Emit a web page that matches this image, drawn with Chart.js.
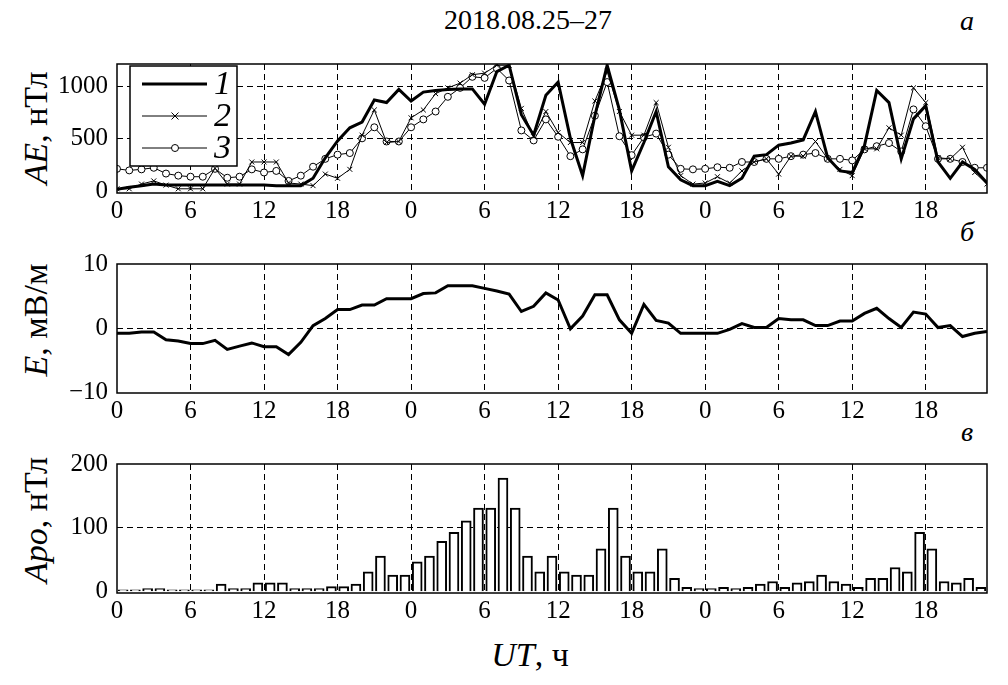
<!DOCTYPE html>
<html>
<head>
<meta charset="utf-8">
<script src="https://cdn.jsdelivr.net/npm/chart.js"></script>
<style>
body { margin: 0; background: #fff; width: 1008px; height: 685px; position: relative; overflow: hidden; }
canvas { position: absolute; left: 0; }
.lbl { position: absolute; font-family: 'Liberation Serif', 'Times New Roman', serif; color: #000; white-space: nowrap; transform: translate(-50%, -50%); }
.ytitle { position: absolute; font-family: 'Liberation Serif', 'Times New Roman', serif; color: #000; white-space: nowrap; font-size: 34px; left: 36px; transform: translate(-50%, -50%) rotate(-90deg); }
</style>
</head>
<body>
<div class="lbl" style="left:528px;top:20px;font-size:28px">2018.08.25–27</div>
<div class="lbl" style="left:967px;top:21px;font-size:28px;font-style:italic">а</div>
<div class="lbl" style="left:967px;top:232px;font-size:28px;font-style:italic">б</div>
<div class="lbl" style="left:967px;top:432px;font-size:28px;font-style:italic">в</div>
<div class="ytitle" style="top:128px"><i>AE</i>, нТл</div>
<div class="ytitle" style="top:320px"><i>E</i>, мВ/м</div>
<div class="ytitle" style="top:520px"><i>Apo</i>, нТл</div>
<div class="lbl" style="left:530px;top:655px;font-size:34px"><i>UT</i>, ч</div>

<canvas id="chartAE" width="1008" height="183" style="top:40px"></canvas>
<canvas id="chartE" width="1008" height="183" style="top:240px"></canvas>
<canvas id="chartApo" width="1008" height="183" style="top:440px"></canvas>

<script>
// hourly values, 25-27 Aug 2018
const xTickHours = [0, 6, 12, 18, 24, 30, 36, 42, 48, 54, 60, 66]
const xTickLabels = ['0', '6', '12', '18', '0', '6', '12', '18', '0', '6', '12', '18']

const aeLabels = ['1', '2', '3']
const ae1 = [20, 40, 55, 70, 60, 60, 60, 60, 60, 60, 60, 60, 60, 55, 55, 55, 125, 320, 480, 605, 660, 870, 845, 970, 860,
    945, 960, 970, 975, 975, 830, 1140, 1200, 730, 535, 915, 1040, 505, 150, 720, 1200, 775, 195, 465, 760, 235, 110, 55, 55,
    95, 55, 125, 335, 350, 440, 460, 490, 760, 320, 195, 180, 435, 960, 845, 310, 690, 815, 280, 125, 280, 210, 80]
const ae2 = [25, 25, 70, 100, 60, 25, 25, 25, 220, 70, 70, 280, 280, 280, 80, 70, 55, 165, 125, 210, 535, 775, 465, 475, 700,
    775, 930, 985, 1030, 1110, 1125, 1200, 1200, 790, 520, 760, 560, 465, 465, 860, 1140, 760, 535, 535, 845, 420, 150, 70, 80,
    140, 80, 195, 280, 310, 165, 335, 335, 475, 310, 210, 150, 405, 405, 605, 535, 985, 845, 320, 310, 420, 180, 70]
const ae3 = [215, 200, 210, 225, 170, 150, 140, 140, 215, 130, 140, 210, 180, 195, 100, 150, 235, 310, 350, 365, 505, 610, 475, 475, 610,
    685, 760, 900, 985, 1090, 1080, 1170, 1055, 580, 485, 685, 520, 335, 400, 720, 1040, 525, 345, 515, 550, 350, 215, 210, 215,
    230, 225, 280, 280, 310, 310, 335, 350, 365, 310, 310, 295, 400, 430, 460, 380, 780, 620, 310, 310, 280, 225, 225]
const aeTicks = [0, 500, 1000]

const eField = [-0.8, -0.8, -0.6, -0.6, -1.8, -2.0, -2.4, -2.4, -1.9, -3.3, -2.8, -2.3, -2.9, -2.9, -4.1, -2.2, 0.4, 1.5, 2.9, 2.9,
    3.6, 3.6, 4.6, 4.6, 4.6, 5.4, 5.5, 6.6, 6.6, 6.6, 6.2, 5.8, 5.3, 2.6, 3.4, 5.5, 4.4, -0.1, 1.9, 5.2,
    5.2, 1.3, -0.8, 3.7, 1.2, 0.8, -0.8, -0.8, -0.8, -0.8, -0.2, 0.7, 0.1, 0.1, 1.5, 1.3, 1.3, 0.4, 0.4, 1.1,
    1.1, 2.3, 3.1, 1.5, 0.1, 2.5, 2.2, 0.1, 0.4, -1.3, -0.8, -0.5]
const eTicks = [-10, 0, 10]

const apo = [3, 3, 5, 5, 3, 3, 3, 3, 12, 5, 5, 14, 14, 14, 5, 5, 5, 8, 8, 12,
    31, 56, 26, 26, 47, 56, 79, 93, 111, 131, 131, 178, 131, 56, 31, 56, 31, 26, 26, 67,
    131, 56, 31, 31, 67, 21, 7, 5, 5, 7, 5, 7, 12, 16, 7, 14, 16, 26, 16, 12,
    7, 21, 21, 38, 31, 93, 67, 16, 14, 21, 7]
const apoTicks = [0, 100, 200]

const serif = "'Liberation Serif', 'Times New Roman', serif"
const tickFont = { family: serif, size: 25 }
const toPoints = arr => arr.map((v, i) => ({ x: i, y: v }))
const fmt = v => v < 0 ? '\u2212' + Math.abs(v) : String(v)

// frame round the plot area
const frame = {
    id: 'frame',
    afterDraw(chart) {
        const { ctx, chartArea: a } = chart
        ctx.save()
        ctx.strokeStyle = '#000'
        ctx.lineWidth = 1.5
        ctx.strokeRect(a.left, a.top, a.right - a.left, a.bottom - a.top)
        ctx.restore()
    }
}

function drawMarker(ctx, style, x, y, r) {
    ctx.beginPath()
    if (style === 'circle') {
        ctx.arc(x, y, r, 0, Math.PI * 2)
        ctx.fillStyle = '#fff'
        ctx.fill()
        ctx.stroke()
    } else if (style === 'crossRot') {
        ctx.moveTo(x - r, y - r); ctx.lineTo(x + r, y + r)
        ctx.moveTo(x - r, y + r); ctx.lineTo(x + r, y - r)
        ctx.stroke()
    }
}

// legend inside panel a
const legendBox = {
    id: 'legendBox',
    afterDraw(chart) {
        const { ctx, chartArea: a } = chart
        const x0 = a.left + 13, y0 = a.top + 2
        ctx.save()
        ctx.fillStyle = '#fff'
        ctx.fillRect(x0, y0, 107, 100)
        ctx.strokeStyle = '#000'
        ctx.lineWidth = 1.5
        ctx.strokeRect(x0, y0, 107, 100)
        chart.data.datasets.forEach((ds, i) => {
            const y = y0 + 18 + i * 32
            ctx.strokeStyle = '#000'
            ctx.lineWidth = ds.borderWidth
            ctx.beginPath()
            ctx.moveTo(x0 + 12, y)
            ctx.lineTo(x0 + 77, y)
            ctx.stroke()
            ctx.lineWidth = 1
            if (ds.pointRadius > 0) drawMarker(ctx, ds.pointStyle, x0 + 45, y, ds.pointRadius)
            ctx.fillStyle = '#000'
            ctx.font = 'italic 34px ' + serif
            ctx.textBaseline = 'middle'
            ctx.fillText(ds.label, x0 + 84, y + 1)
        })
        ctx.restore()
    }
}

function xScale() {
    return {
        type: 'linear', min: 0, max: 71, offset: false,
        afterBuildTicks: s => { s.ticks = xTickHours.map(v => ({ value: v })) },
        afterFit: s => { s.height = 30 },
        ticks: { callback: (v, i) => xTickLabels[i], font: tickFont, color: '#000', padding: 3, maxRotation: 0, autoSkip: false },
        grid: { color: c => (c.tick && c.tick.value > 0) ? '#000' : 'transparent', lineWidth: 1, drawTicks: false, offset: false },
        border: { display: false, dash: [6, 4] }
    }
}

function yScale(min, max, tickVals, gridVals) {
    return {
        min: min, max: max,
        afterBuildTicks: s => { s.ticks = tickVals.map(v => ({ value: v })) },
        afterFit: s => { s.width = 117 },
        ticks: { callback: v => fmt(v), font: tickFont, color: '#000', padding: 9 },
        grid: { color: c => (c.tick && gridVals.includes(c.tick.value)) ? '#000' : 'transparent', lineWidth: 1, drawTicks: false },
        border: { display: false, dash: [6, 4] }
    }
}

const baseOptions = (top) => ({
    responsive: false,
    animation: false,
    layout: { padding: { top: top, right: 21, left: 0, bottom: 0 } },
    plugins: { legend: { display: false }, tooltip: { enabled: false } }
})

// panel a: AE
new Chart(document.getElementById('chartAE'), {
    type: 'line',
    data: {
        datasets: [
            { label: aeLabels[0], data: toPoints(ae1), borderColor: '#000', borderWidth: 3, pointRadius: 0, tension: 0 },
            { label: aeLabels[1], data: toPoints(ae2), borderColor: '#000', borderWidth: 1, pointStyle: 'crossRot', pointRadius: 3.5, pointBorderWidth: 1, pointBorderColor: '#000', tension: 0 },
            { label: aeLabels[2], data: toPoints(ae3), borderColor: '#000', borderWidth: 1, pointStyle: 'circle', pointRadius: 3.5, pointBorderWidth: 1, pointBorderColor: '#000', pointBackgroundColor: '#fff', tension: 0 }
        ]
    },
    options: Object.assign(baseOptions(8), {
        scales: { x: xScale(), y: yScale(-15, 1212, aeTicks, [500, 1000]) }
    }),
    plugins: [frame, legendBox]
})

// panel b: E
new Chart(document.getElementById('chartE'), {
    type: 'line',
    data: {
        datasets: [{ data: toPoints(eField), borderColor: '#000', borderWidth: 3, pointRadius: 0, tension: 0 }]
    },
    options: Object.assign(baseOptions(10), {
        scales: { x: xScale(), y: yScale(-10.1, 10, eTicks, [0]) }
    }),
    plugins: [frame]
})

// panel c: Apo bars, one per hour
new Chart(document.getElementById('chartApo'), {
    type: 'bar',
    data: {
        datasets: [{ data: apo.map((v, i) => ({ x: i + 0.5, y: v })), backgroundColor: '#fff', borderColor: '#000', borderWidth: 2, barThickness: 10 }]
    },
    options: Object.assign(baseOptions(11), {
        scales: { x: xScale(), y: yScale(-2, 200, apoTicks, [100]) }
    }),
    plugins: [frame]
})
</script>
</body>
</html>
